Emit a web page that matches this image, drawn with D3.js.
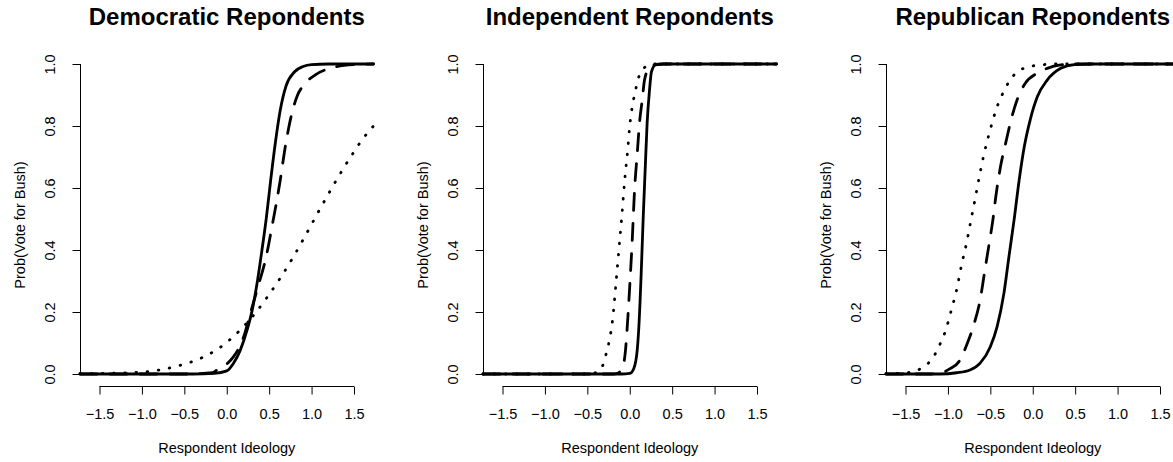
<!DOCTYPE html>
<html><head><meta charset="utf-8">
<script src="https://cdn.jsdelivr.net/npm/d3@7"></script>
<style>html,body{margin:0;padding:0;background:#fff;} svg{display:block;}</style>
</head><body>
<script>
// ---------- data ----------
const panelTitles = ["Democratic Repondents", "Independent Repondents", "Republican Repondents"];
const xLabel = "Respondent Ideology";
const yLabel = "Prob(Vote for Bush)";
const xTicks = [-1.5, -1.0, -0.5, 0.0, 0.5, 1.0, 1.5];
const yTicks = [0.0, 0.2, 0.4, 0.6, 0.8, 1.0];
const xDomain = [-1.73, 1.73];

// Democratic respondents
const demSolidX  = [-1.73, -0.4, -0.15, 0.0, 0.08, 0.16, 0.24, 0.30, 0.356, 0.41, 0.465, 0.52, 0.575, 0.63, 0.70, 0.80, 0.90, 1.0, 1.2, 1.73];
const demSolidY  = [0, 0, 0.002, 0.01, 0.035, 0.077, 0.142, 0.206, 0.29, 0.39, 0.50, 0.63, 0.75, 0.85, 0.93, 0.975, 0.992, 0.998, 1, 1];
const demDashX   = [-1.73, -0.5, -0.17, -0.115, 0.0, 0.08, 0.2, 0.278, 0.356, 0.474, 0.533, 0.584, 0.631, 0.69, 0.749, 0.828, 0.926, 1.044, 1.26, 1.49, 1.73];
const demDashY   = [0, 0, 0.004, 0.013, 0.032, 0.056, 0.12, 0.196, 0.27, 0.39, 0.475, 0.55, 0.626, 0.733, 0.819, 0.895, 0.938, 0.965, 0.989, 0.998, 1];
const demDotX    = [-1.73, -1.4, -1.058, -0.795, -0.535, -0.28, -0.052, 0.152, 0.329, 0.49, 0.639, 0.781, 0.914, 1.044, 1.174, 1.307, 1.448, 1.6, 1.73];
const demDotY    = [0.001, 0.002, 0.005, 0.013, 0.029, 0.054, 0.091, 0.14, 0.194, 0.253, 0.313, 0.376, 0.44, 0.505, 0.569, 0.632, 0.695, 0.757, 0.80];

// Independent respondents
const indSolidX  = [-1.73, -0.1, 0.0, 0.048, 0.088, 0.107, 0.135, 0.158, 0.182, 0.205, 0.233, 0.256, 0.304, 0.4, 1.73];
const indSolidY  = [0, 0, 0.002, 0.018, 0.077, 0.15, 0.325, 0.5, 0.66, 0.81, 0.916, 0.975, 0.997, 1, 1];
const indDashX   = [-1.73, -0.2, -0.148, -0.089, -0.05, -0.03, -0.003, 0.029, 0.056, 0.088, 0.115, 0.147, 0.174, 0.225, 0.276, 0.4, 1.73];
const indDashY   = [0, 0, 0.002, 0.018, 0.077, 0.15, 0.27, 0.43, 0.59, 0.71, 0.81, 0.884, 0.948, 0.986, 0.997, 1, 1];
const indDotX    = [-1.73, -0.5, -0.392, -0.306, -0.274, -0.242, -0.2, -0.164, -0.129, -0.094, -0.062, -0.023, 0.0, 0.036, 0.064, 0.091, 0.139, 0.2, 0.3, 1.73];
const indDotY    = [0, 0, 0.005, 0.036, 0.07, 0.106, 0.18, 0.288, 0.398, 0.507, 0.617, 0.726, 0.8, 0.873, 0.909, 0.944, 0.977, 0.993, 1, 1];

// Republican respondents
const repSolidX  = [-1.73, -1.1, -0.895, -0.74, -0.62, -0.5, -0.42, -0.34, -0.28, -0.22, -0.16, -0.1, -0.03, 0.055, 0.17, 0.33, 0.49, 0.7, 1.73];
const repSolidY  = [0, 0, 0.004, 0.013, 0.035, 0.088, 0.153, 0.26, 0.38, 0.497, 0.626, 0.733, 0.82, 0.895, 0.948, 0.986, 0.998, 1, 1];
const repDashX   = [-1.73, -1.2, -1.09, -0.97, -0.87, -0.77, -0.69, -0.62, -0.57, -0.52, -0.47, -0.43, -0.38, -0.32, -0.255, -0.185, -0.088, 0.05, 0.17, 0.33, 0.5, 1.73];
const repDashY   = [0, 0, 0.003, 0.018, 0.04, 0.1, 0.163, 0.239, 0.325, 0.41, 0.497, 0.583, 0.669, 0.744, 0.82, 0.884, 0.938, 0.97, 0.986, 0.997, 1, 1];
const repDotX    = [-1.73, -1.6, -1.46, -1.33, -1.22, -1.145, -1.086, -1.035, -0.96, -0.894, -0.842, -0.783, -0.732, -0.68, -0.63, -0.575, -0.508, -0.433, -0.33, -0.268, -0.18, -0.044, 0.095, 0.25, 1.73];
const repDotY    = [0.001, 0.002, 0.005, 0.016, 0.038, 0.067, 0.101, 0.134, 0.206, 0.276, 0.348, 0.419, 0.491, 0.564, 0.636, 0.709, 0.781, 0.852, 0.918, 0.948, 0.975, 0.991, 0.997, 1, 1];

// ---------- assembly ----------
const zip = (xs, ys) => xs.map((v, i) => [v, ys[i]]);
const panels = [
  {title: panelTitles[0], series: [
    {type: "solid", pts: zip(demSolidX, demSolidY)},
    {type: "dashed", pts: zip(demDashX, demDashY)},
    {type: "dotted", pts: zip(demDotX, demDotY)}]},
  {title: panelTitles[1], series: [
    {type: "solid", pts: zip(indSolidX, indSolidY)},
    {type: "dashed", pts: zip(indDashX, indDashY)},
    {type: "dotted", pts: zip(indDotX, indDotY)}]},
  {title: panelTitles[2], series: [
    {type: "solid", pts: zip(repSolidX, repSolidY)},
    {type: "dashed", pts: zip(repDashX, repDashY)},
    {type: "dotted", pts: zip(repDotX, repDotY)}]}
];

const styles = {
  solid:  {dash: null, cap: "round"},
  dashed: {dash: "17,13", cap: "round"},
  dotted: {dash: "0.6,10.6", cap: "round"}
};

const W = 1173, H = 462;
const FONT = "'Liberation Sans', Arial, Helvetica, sans-serif";
const svg = d3.select("body").append("svg").attr("width", W).attr("height", H)
  .style("background", "#fff");

const panelLeft = [80, 483, 886];
const plotW = 293.5;
const yTop = 64, yBottom = 374, xAxisY = 386;

const fmtY = d3.format(".1f");
const fmtX = v => d3.format(".1f")(v).replace("-", "\u2212");

panels.forEach((p, i) => {
  const L = panelLeft[i];
  const x = d3.scaleLinear().domain(xDomain).range([L, L + plotW]);
  const y = d3.scaleLinear().domain([0, 1]).range([yBottom, yTop]);
  const g = svg.append("g");

  // title
  g.append("text").attr("x", L + plotW / 2).attr("y", 25)
    .attr("text-anchor", "middle").attr("font-family", FONT)
    .attr("font-weight", "bold").attr("font-size", 24).text(p.title);

  // x axis
  const xa = g.append("g").attr("transform", `translate(0,${xAxisY + 0.5})`)
    .call(d3.axisBottom(x).tickValues(xTicks).tickSize(8).tickSizeOuter(0).tickFormat(fmtX));
  xa.select(".domain").remove();
  xa.append("line").attr("x1", x(xTicks[0])).attr("x2", x(xTicks[xTicks.length - 1]))
    .attr("y1", 0).attr("y2", 0).attr("stroke", "#000");
  xa.selectAll(".tick line").attr("stroke", "#000");
  xa.selectAll(".tick text").attr("y", 32.5).attr("dy", null)
    .attr("font-family", FONT).attr("font-size", 14.5).attr("fill", "#000");

  // y axis
  const ya = g.append("g").attr("transform", `translate(${L + 0.5},0)`)
    .call(d3.axisLeft(y).tickValues(yTicks).tickSize(8).tickSizeOuter(0).tickFormat(fmtY));
  ya.select(".domain").remove();
  ya.append("line").attr("x1", 0).attr("x2", 0)
    .attr("y1", y(yTicks[0])).attr("y2", y(yTicks[yTicks.length - 1])).attr("stroke", "#000");
  ya.selectAll(".tick line").attr("stroke", "#000");
  ya.selectAll(".tick text")
    .attr("x", null).attr("dy", null)
    .attr("transform", "translate(-25.5,0) rotate(-90)")
    .attr("text-anchor", "middle")
    .attr("font-family", FONT).attr("font-size", 14.5).attr("fill", "#000");

  // axis titles
  g.append("text").attr("x", L + plotW / 2).attr("y", 453)
    .attr("text-anchor", "middle").attr("font-family", FONT).attr("font-size", 14.5)
    .text(xLabel);
  g.append("text").attr("transform", `translate(${L - 55},${(yTop + xAxisY) / 2}) rotate(-90)`)
    .attr("text-anchor", "middle").attr("font-family", FONT).attr("font-size", 14.5)
    .text(yLabel);

  // curves
  const line = d3.line().x(d => x(d[0])).y(d => y(d[1])).curve(d3.curveMonotoneX);
  p.series.forEach(s => {
    const st = styles[s.type];
    g.append("path").datum(s.pts).attr("d", line)
      .attr("fill", "none").attr("stroke", "#000").attr("stroke-width", 2.8)
      .attr("stroke-linecap", st.cap).attr("stroke-linejoin", "round")
      .attr("stroke-dasharray", st.dash);
  });
});
</script>
</body></html>
